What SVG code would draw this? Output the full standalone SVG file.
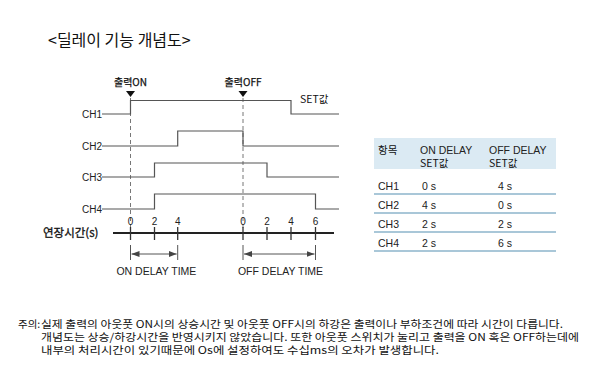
<svg xmlns="http://www.w3.org/2000/svg" width="600" height="384" viewBox="0 0 600 384">
<style>
.kr{font-family:"Noto Sans CJK KR","Liberation Sans",sans-serif;fill:#111}
.lt{font-family:"Liberation Sans","Noto Sans CJK KR",sans-serif;fill:#222}
.wave{fill:none;stroke:#555;stroke-width:1.2}
.dash{fill:none;stroke:#777;stroke-width:1;stroke-dasharray:4 3}
.tick{stroke:#333;stroke-width:1.3}
.ext{stroke:#555;stroke-width:1}
.row{stroke:#8db4cb;stroke-width:1.5}
</style>
<defs>
<marker id="ah" viewBox="0 0 8 6" refX="8" refY="3" markerWidth="8" markerHeight="6" markerUnits="userSpaceOnUse" orient="auto-start-reverse">
<path d="M0,0 L8,3 L0,6 Z" fill="#444"/>
</marker>
</defs>
<rect width="600" height="384" fill="#fff"/>
<g id="title"><text class="kr" x="48" y="46" font-size="16">&lt;딜레이 기능 개념도&gt;</text></g>

<g id="markers">
<text class="kr" x="130.5" y="86" font-size="10" text-anchor="middle" stroke="#111" stroke-width="0.25">출력ON</text>
<path d="M126,91 L135,91 L130.5,97 Z" fill="#111"/>
<text class="kr" x="243" y="86" font-size="10" text-anchor="middle" stroke="#111" stroke-width="0.25">출력OFF</text>
<path d="M238.5,91 L247.5,91 L243,97 Z" fill="#111"/>
<text class="kr" x="300" y="103" font-size="10.5">SET값</text>
</g>

<g id="ch-labels" class="lt" font-size="10" text-anchor="end">
<text x="102" y="117.5">CH1</text>
<text x="102" y="149.5">CH2</text>
<text x="102" y="180.5">CH3</text>
<text x="102" y="212.5">CH4</text>
</g>

<g id="connectors">
<path class="dash" d="M130.5,98 V228"/>
<path class="dash" d="M243,98 V228"/>
<path class="wave" d="M102,114 H130.5 V100.5 H291 V114 H339"/>
<path class="wave" d="M102,146 H177.7 V131 H243 V146 H339"/>
<path class="wave" d="M102,177 H154.5 V163 H267 V177 H339"/>
<path class="wave" d="M102,209 H154.5 V194 H315.5 V209 H339"/>
<line x1="113" y1="233" x2="334" y2="233" stroke="#222" stroke-width="2"/>
<g class="tick">
<line x1="130.5" y1="227" x2="130.5" y2="240"/>
<line x1="154.5" y1="227" x2="154.5" y2="240"/>
<line x1="177.7" y1="227" x2="177.7" y2="240"/>
<line x1="243" y1="227" x2="243" y2="240"/>
<line x1="267" y1="227" x2="267" y2="240"/>
<line x1="291" y1="227" x2="291" y2="240"/>
<line x1="315.5" y1="227" x2="315.5" y2="240"/>
</g>
<g class="ext">
<line x1="130.5" y1="245" x2="130.5" y2="260"/>
<line x1="177.7" y1="245" x2="177.7" y2="260"/>
<line x1="243" y1="245" x2="243" y2="260"/>
<line x1="315.5" y1="245" x2="315.5" y2="260"/>
<line x1="131.5" y1="254" x2="176.7" y2="254" marker-start="url(#ah)" marker-end="url(#ah)"/>
<line x1="244" y1="254" x2="314.5" y2="254" marker-start="url(#ah)" marker-end="url(#ah)"/>
</g>
</g>

<g id="axis-labels" class="lt" font-size="10" text-anchor="middle">
<text x="130.5" y="225">0</text>
<text x="154.5" y="225">2</text>
<text x="177.7" y="225">4</text>
<text x="243" y="225">0</text>
<text x="267" y="225">2</text>
<text x="291" y="225">4</text>
<text x="315.5" y="225">6</text>
</g>
<g id="axis-title"><text class="kr" x="43" y="237" font-size="11.5" stroke="#111" stroke-width="0.3">연장시간(s)</text></g>
<g id="delay-labels" class="lt" font-size="10.5" text-anchor="middle">
<text x="156.4" y="275">ON DELAY TIME</text>
<text x="280.5" y="275">OFF DELAY TIME</text>
</g>

<g id="table">
<rect x="374" y="138" width="182" height="31" fill="#dbeaf3"/>
<text class="kr" x="378" y="154" font-size="10.5">항목</text>
<text class="lt" x="420" y="154" font-size="10.5">ON DELAY</text>
<text class="kr" x="420" y="166.5" font-size="10.5">SET값</text>
<text class="lt" x="489" y="154" font-size="10.5">OFF DELAY</text>
<text class="kr" x="489" y="166.5" font-size="10.5">SET값</text>
<g class="row">
<line x1="374" y1="194" x2="556" y2="194"/>
<line x1="374" y1="213" x2="556" y2="213"/>
<line x1="374" y1="232" x2="556" y2="232"/>
<line x1="374" y1="251" x2="556" y2="251"/>
</g>
<g class="lt" font-size="10.5">
<text x="378" y="190">CH1</text><text x="422" y="190">0 s</text><text x="498" y="190">4 s</text>
<text x="378" y="209">CH2</text><text x="422" y="209">4 s</text><text x="498" y="209">0 s</text>
<text x="378" y="228">CH3</text><text x="422" y="228">2 s</text><text x="498" y="228">2 s</text>
<text x="378" y="247">CH4</text><text x="422" y="247">2 s</text><text x="498" y="247">6 s</text>
</g>
</g>

<g id="notes" class="kr" font-size="10.5">
<text x="18" y="328">주의:</text>
<text x="41" y="328" textLength="522" lengthAdjust="spacingAndGlyphs">실제 출력의 아웃풋 ON시의 상승시간 및 아웃풋 OFF시의 하강은 출력이나 부하조건에 따라 시간이 다릅니다.</text>
<text x="41" y="341" textLength="538" lengthAdjust="spacingAndGlyphs">개념도는 상승/하강시간을 반영시키지 않았습니다. 또한 아웃풋 스위치가 눌리고 출력을 ON 혹은 OFF하는데에</text>
<text x="41" y="354" textLength="398" lengthAdjust="spacingAndGlyphs">내부의 처리시간이 있기때문에 Os에 설정하여도 수십ms의 오차가 발생합니다.</text>
</g>
</svg>
